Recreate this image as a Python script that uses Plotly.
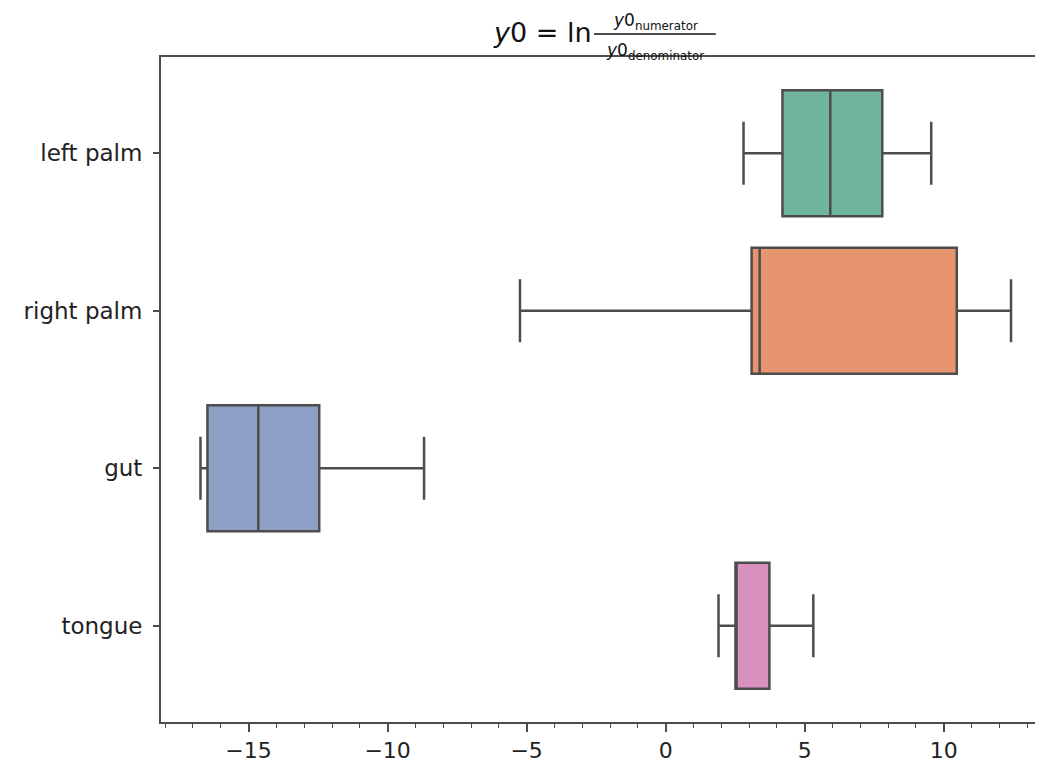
import plotly.graph_objects as go

# categories top to bottom
sites = ["left palm", "right palm", "gut", "tongue"]

# box statistics
lower = [2.80, -5.24, -16.73, 1.90]
q1 = [4.20, 3.09, -16.48, 2.51]
median = [5.92, 3.38, -14.65, 2.55]
q3 = [7.79, 10.47, -12.46, 3.73]
upper = [9.55, 12.42, -8.69, 5.31]

colors = ["#6fb59c", "#e6956f", "#8fa0c6", "#d890bf"]

tick_vals = [-15, -10, -5, 0, 5, 10]
tick_text = ["\u221215", "\u221210", "\u22125", "0", "5", "10"]

line_col = "#4d4d4d"
font = "DejaVu Sans"

fig = go.Figure()

for i, s in enumerate(sites):
    fig.add_trace(go.Box(
        y=[s],
        q1=[q1[i]],
        median=[median[i]],
        q3=[q3[i]],
        lowerfence=[lower[i]],
        upperfence=[upper[i]],
        orientation="h",
        fillcolor=colors[i],
        line=dict(color=line_col, width=2.5),
        width=0.8,
        whiskerwidth=0.5,
        boxpoints=False,
        hoverinfo="skip",
        showlegend=False,
    ))

# title drawn as text pieces: y0 = ln (y0_numerator / y0_denominator)
fig.add_annotation(
    text="<i>y</i>0 = ln", xref="paper", yref="paper", x=0.5, y=1,
    xanchor="right", yanchor="middle", xshift=-8, yshift=25,
    showarrow=False, font=dict(family=font, size=27, color="#111"),
)
fig.add_annotation(
    text="<i>y</i>0<sub>numerator</sub>", xref="paper", yref="paper", x=0.5, y=1,
    xanchor="center", yanchor="middle", xshift=53, yshift=36,
    showarrow=False, font=dict(family=font, size=17, color="#111"),
)
fig.add_annotation(
    text="<i>y</i>0<sub>denominator</sub>", xref="paper", yref="paper", x=0.5, y=1,
    xanchor="center", yanchor="middle", xshift=53, yshift=6,
    showarrow=False, font=dict(family=font, size=17, color="#111"),
)
fig.add_shape(
    type="line", xref="paper", yref="paper", ysizemode="pixel", yanchor=1,
    x0=0.491, x1=0.629, y0=23, y1=23,
    line=dict(color="#111", width=1.5),
)

# page body has an 8px margin, so the figure is sized 8px smaller each way
fig.update_layout(
    width=1035, height=756,
    margin=dict(l=153, r=0, t=49, b=42, autoexpand=False),
    plot_bgcolor="white", paper_bgcolor="white",
    font=dict(family=font, size=23, color="#222"),
    boxmode="overlay",
)

fig.update_xaxes(
    range=[-18.15, 13.57],
    tickvals=tick_vals, ticktext=tick_text,
    ticks="outside", ticklen=8, tickwidth=1.5, tickcolor=line_col,
    minor=dict(dtick=1, ticks="outside", ticklen=4, tickwidth=1, tickcolor=line_col),
    showgrid=False, zeroline=False,
    showline=True, mirror=True, linecolor=line_col, linewidth=2,
    tickfont=dict(size=22), ticklabelstandoff=0,
    automargin=False,
)
fig.update_yaxes(
    categoryorder="array", categoryarray=sites,
    autorange="reversed",
    ticks="outside", ticklen=6, tickwidth=1.5, tickcolor=line_col,
    showgrid=False, zeroline=False,
    showline=True, linecolor=line_col, linewidth=2,
    tickfont=dict(size=23), ticklabelstandoff=6,
    automargin=False,
)

fig.write_html("out.html")
